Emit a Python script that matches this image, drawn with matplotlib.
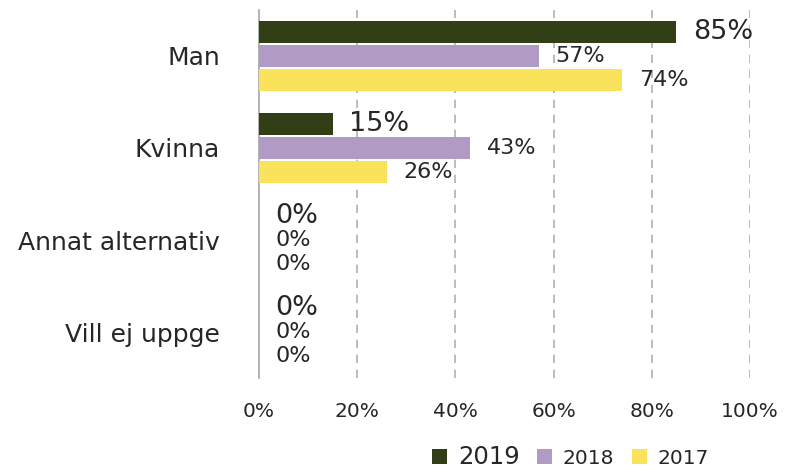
import numpy as np
import matplotlib
matplotlib.use("Agg")
import matplotlib.pyplot as plt

# data
categories = ["Man", "Kvinna", "Annat alternativ", "Vill ej uppge"]
years = ["2019", "2018", "2017"]
values_2019 = [85, 15, 0, 0]
values_2018 = [57, 43, 0, 0]
values_2017 = [74, 26, 0, 0]
x_ticks = [0, 20, 40, 60, 80, 100]

colors = ["#323f16", "#af9bc3", "#fae25a"]
label_sizes = [19.5, 16, 16]
legend_sizes = [17.5, 14.5, 14.5]

plt.rcParams["font.family"] = ["DejaVu Sans"]

fig = plt.figure(figsize=(7.87, 4.68), dpi=100)
ax = fig.add_axes([0.329, 0.192, 0.624, 0.787])

y = np.arange(len(categories))
offsets = [-0.26, 0.0, 0.26]
series = [values_2019, values_2018, values_2017]

for vals, off, col, yr, fs in zip(series, offsets, colors, years, label_sizes):
    bars = ax.barh(y + off, vals, height=0.235, color=col, label=yr, zorder=3)
    ax.bar_label(bars, labels=[f"{v}%" for v in vals], padding=12,
                 fontsize=fs, color="#262626")

ax.set_ylim(3.5, -0.5)
ax.set_xlim(0, 100)
ax.set_xticks(x_ticks)
ax.set_xticklabels([f"{t}%" for t in x_ticks], fontsize=14.5, color="#262626")
ax.set_yticks(y)
ax.set_yticklabels(categories, fontsize=18, color="#262626")
ax.tick_params(axis="x", length=0, pad=17)
ax.tick_params(axis="y", length=0, pad=28)

for t in x_ticks[1:]:
    ax.axvline(t, color="#b0b0b0", linestyle=(0, (5, 4)), linewidth=1.2, zorder=1)

for side in ["top", "right", "bottom"]:
    ax.spines[side].set_visible(False)
ax.spines["left"].set_color("#a6a6a6")
ax.spines["left"].set_linewidth(1.2)

leg = ax.legend(loc="lower left", bbox_to_anchor=(0.315, -0.295), ncol=3,
                frameon=False, handlelength=0.75, handleheight=0.75,
                handletextpad=0.55, columnspacing=0.85, fontsize=14.5)
for txt, fs in zip(leg.get_texts(), legend_sizes):
    txt.set_fontsize(fs)
    txt.set_color("#262626")

fig.savefig("out.png", dpi=100)
